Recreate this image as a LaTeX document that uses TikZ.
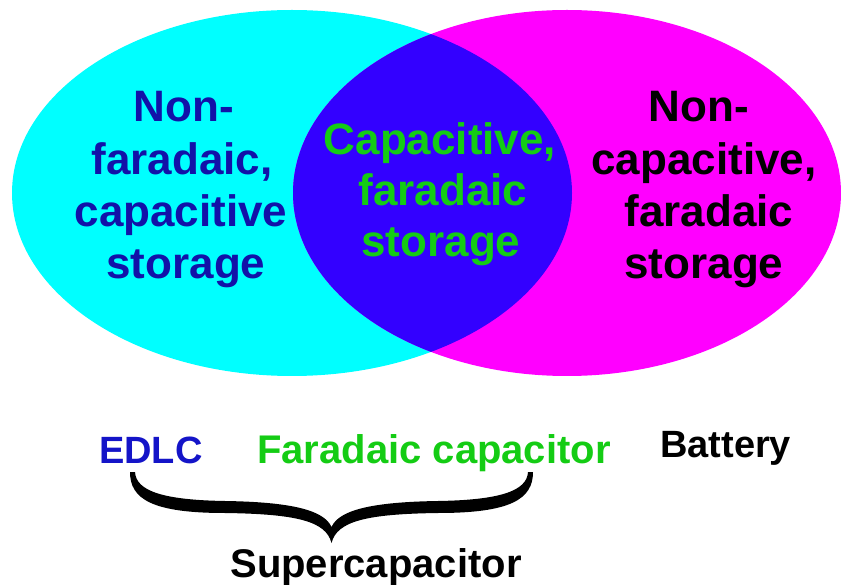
\documentclass[tikz,border=0pt]{standalone}
\usepackage{fontspec}
\setmainfont{Liberation Sans}
\definecolor{cyanfill}{RGB}{0,255,255}
\definecolor{magfill}{RGB}{255,0,255}
\definecolor{overlap}{RGB}{51,0,255}
\definecolor{navytext}{RGB}{18,18,168}
\definecolor{edlcblue}{RGB}{20,20,200}
\definecolor{greentext}{RGB}{20,204,20}
\begin{document}
\begin{tikzpicture}[x=1pt,y=-1pt,
  big/.style={inner sep=0pt,anchor=base,font=\fontsize{44}{52}\selectfont\bfseries},
  low/.style={inner sep=0pt,anchor=base,font=\fontsize{40}{48}\selectfont\bfseries}]
\useasboundingbox (0,0) rectangle (841,585);
% ellipses
\fill[cyanfill] (292,193) ellipse [x radius=280, y radius=183];
\fill[magfill] (567,193) ellipse [x radius=274, y radius=183];
\begin{scope}
  \clip (292,193) ellipse [x radius=280, y radius=183];
  \fill[overlap] (567,193) ellipse [x radius=274, y radius=183];
\end{scope}
% left text
\node[big,text=navytext] (l1) at (184,122) {Non-};
\node[big,text=navytext] (l2) at (182,175) {faradaic,};
\node[big,text=navytext] (l3) at (181,227) {capacitive};
\node[big,text=navytext] (l4) at (186,279) {storage};
% middle text
\node[big,text=greentext] (m1) at (440,155) {Capacitive,};
\node[big,text=greentext] (m2) at (443,206) {faradaic};
\node[big,text=greentext] (m3) at (441,257) {storage};
% right text
\node[big,text=black] (r1) at (699,122) {Non-};
\node[big,text=black] (r2) at (704,175) {capacitive,};
\node[big,text=black] (r3) at (709,227) {faradaic};
\node[big,text=black] (r4) at (704,279) {storage};
% bottom labels
\node[low,text=edlcblue,anchor=base west,font=\fontsize{38}{46}\selectfont\bfseries] (edlc) at (99,463) {EDLC};
\node[low,text=greentext,anchor=base west] (fc) at (257,463) {Faradaic capacitor};
\node[low,text=black,anchor=base west,font=\fontsize{38}{46}\selectfont\bfseries] (bat) at (660,457) {Battery};
\node[low,text=black] (sc) at (376,577) {Supercapacitor};
% brace
\fill[black] (130,472) .. controls (130,499) and (152,513) .. (225,513)
  .. controls (296,514) and (326,521) .. (331.5,543)
  .. controls (337,521) and (367,514) .. (438,513)
  .. controls (511,513) and (533,499) .. (533,472)
  -- (528,472) .. controls (527,491) and (500,500) .. (438,501)
  .. controls (372,502) and (339,510) .. (331.5,527)
  .. controls (324,510) and (291,502) .. (225,501)
  .. controls (163,500) and (136,491) .. (135,472) -- cycle;
\end{tikzpicture}
\end{document}
